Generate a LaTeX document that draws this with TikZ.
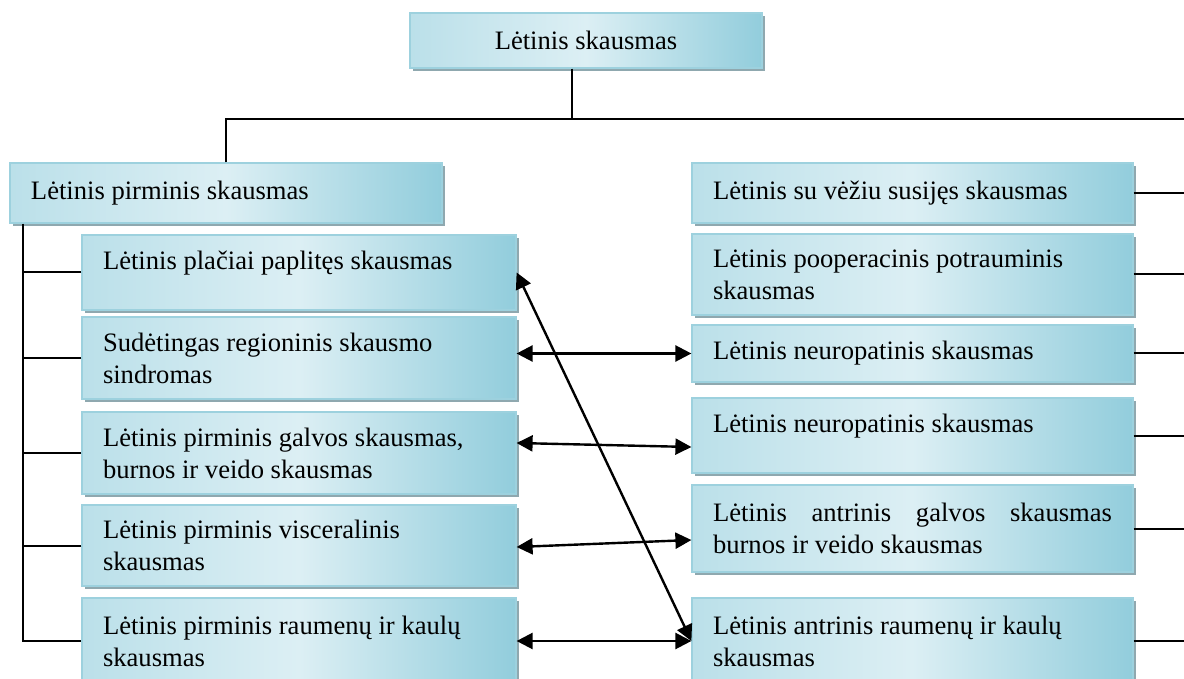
\documentclass[tikz,border=0pt]{standalone}
\usepackage{fontspec}
\setmainfont{Liberation Serif}
\usetikzlibrary{arrows.meta,shadows}
\definecolor{boxlight}{HTML}{DCEFF4}
\definecolor{boxdark}{HTML}{92CDDC}
\definecolor{boxedge}{HTML}{9DD1DE}
\definecolor{shadowgray}{HTML}{8FA8AF}

\begin{document}
\begin{tikzpicture}[x=0.5pt,y=-0.5pt,
  box/.style={draw=boxedge,line width=0.6pt,left color=boxdark!45!boxlight,right color=boxdark,middle color=boxlight,
    drop shadow={shadow xshift=1.5pt,shadow yshift=-1.5pt,fill=shadowgray,opacity=1},
    inner xsep=10.5pt,inner ysep=2pt,font=\fontsize{13.3}{16}\selectfont},
  kid/.style={box,minimum width=217pt,text width=196pt,align=flush left},
  sub/.style={box,minimum width=220.5pt,text width=199.5pt,align=flush left},
  plain/.style={},
  raised/.style={text depth=12pt},
  just/.style={align=justify},
  tree/.style={line width=1pt},
  both/.style={line width=1.2pt,{Triangle[length=8pt,width=8pt]}-{Triangle[length=8pt,width=8pt]}}]
\useasboundingbox (0,0) rectangle (1184,679);
\node[box,minimum width=176pt,minimum height=27.5pt] (top) at (586,40.5) {Lėtinis skausmas};
\node[kid,minimum width=216pt,text width=195pt,minimum height=30pt] (prim) at (226,193) {Lėtinis pirminis skausmas};
\foreach \n/\y/\h/\o/\lab in {c1/272.5/37.5/raised/{Lėtinis plačiai paplitęs skausmas},
  c2/358/41/plain/{Sudėtingas regioninis skausmo\\sindromas},
  c3/453/41/plain/{Lėtinis pirminis galvos skausmas,\\burnos ir veido skausmas},
  c4/545.5/40.5/plain/{Lėtinis pirminis visceralinis\\skausmas},
  c5/641/43/plain/{Lėtinis pirminis raumenų ir kaulų\\skausmas}}{
  \node[kid,\o,minimum height=\h pt] (\n) at (299,\y) {\lab};
}
\foreach \n/\y/\h/\o/\lab in {r1/193/30/plain/{Lėtinis su vėžiu susijęs skausmas},
  r2/274.5/40.5/plain/{Lėtinis pooperacinis potrauminis\\skausmas},
  r3/353.5/28.5/plain/{Lėtinis neuropatinis skausmas},
  r4/435.5/37.5/raised/{Lėtinis neuropatinis skausmas},
  r5/528.5/43.5/just/{Lėtinis antrinis galvos skausmas burnos ir veido skausmas},
  r6/641/43/plain/{Lėtinis antrinis raumenų ir kaulų\\skausmas}}{
  \node[sub,\o,minimum height=\h pt] (\n) at (912.5,\y) {\lab};
}
\coordinate (hub) at (572,119);
\coordinate (redge) at (1184,119);
\coordinate (ltop) at (23,223);
\draw[tree] (top.south -| hub) -- (hub);
\draw[tree] (prim.north) |- (redge);
\draw[tree] (ltop |- prim.south) |- (c5.west);
\foreach \n in {c1,c2,c3,c4}
  \draw[tree] (\n.west) -- (\n.west -| ltop);
\foreach \n in {r1,r2,r3,r4,r5,r6}
  \draw[tree] (\n.east) -- (\n.east -| redge);
\draw[both] (c2.east |- r3.west) -- (r3.west);
\draw[both] ([yshift=5pt]c3.east) -- ([yshift=-5.75pt]r4.west);
\draw[both] ([yshift=-0.75pt]c4.east) -- ([yshift=-5.75pt]r5.west);
\draw[both] (c5.east) -- (r6.west);
\draw[both] (c1.east) -- (r6.west);
\end{tikzpicture}
\end{document}
